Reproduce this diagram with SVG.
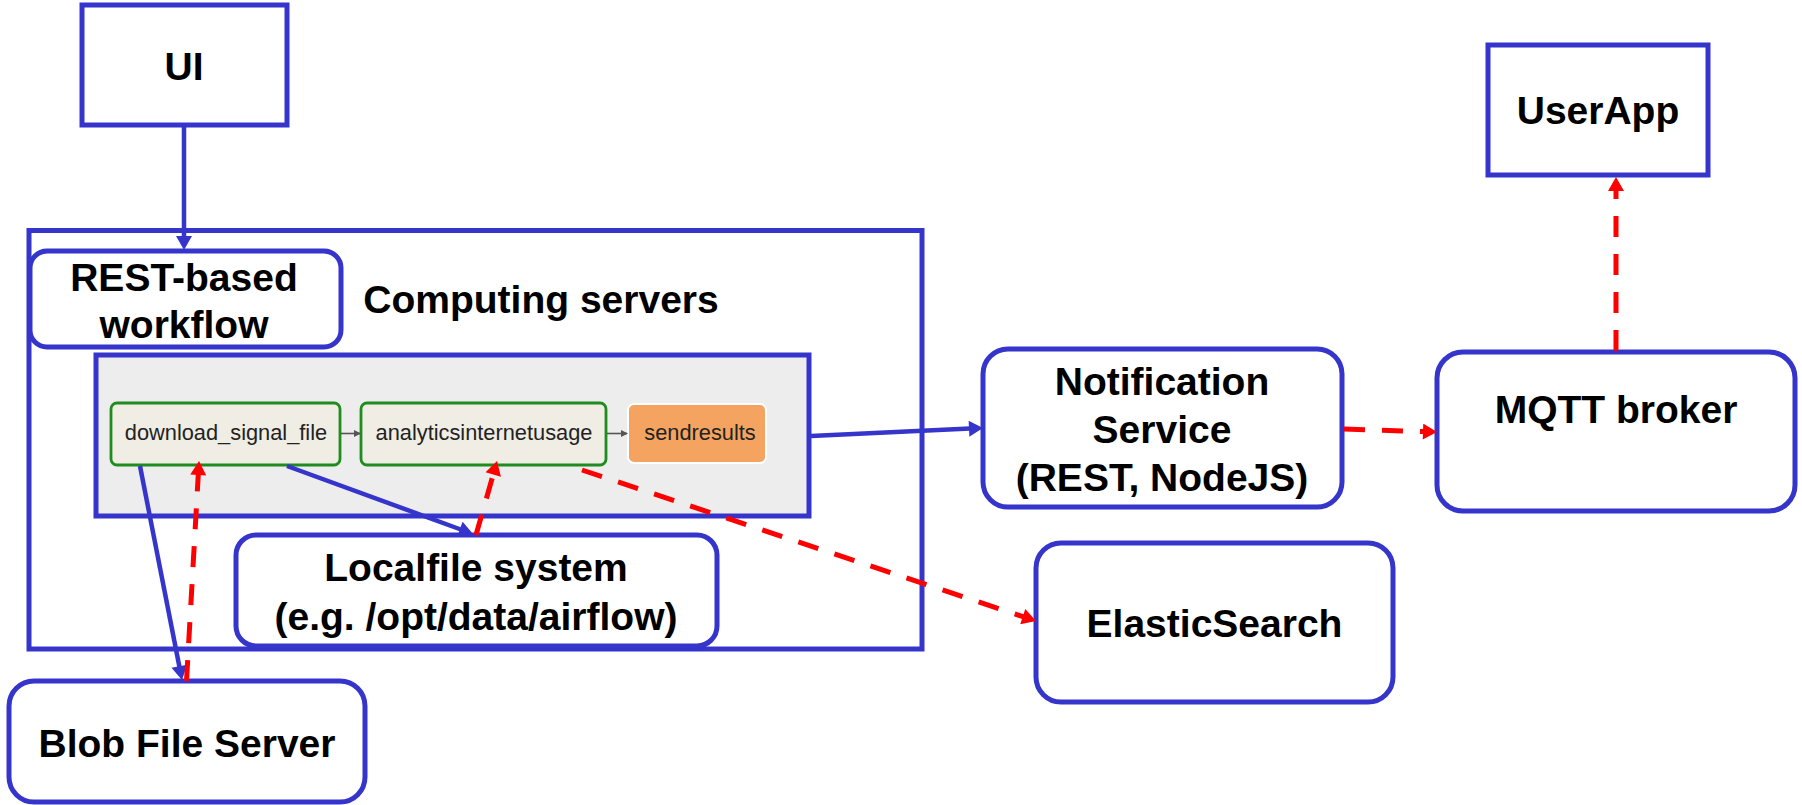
<svg xmlns="http://www.w3.org/2000/svg" width="1802" height="805" viewBox="0 0 1802 805">
<style>
.box{fill:#fff;stroke:#3535CC;stroke-width:5}
.lbl{font-family:"Liberation Sans",Arial,sans-serif;font-weight:bold;font-size:39px;fill:#000;text-anchor:middle}
.task{font-family:"Liberation Sans",Arial,sans-serif;font-size:21.8px;fill:#222;text-anchor:middle}
.tbox{fill:#F0EDE4;stroke:#1E8C1E;stroke-width:2.8}
.blue{fill:none;stroke:#3535CC;stroke-width:4.5}
.red{fill:none;stroke:#FF0000;stroke-width:5;stroke-dasharray:21 17}
.gray{fill:none;stroke:#555;stroke-width:1.6}
</style>
<defs>
<marker id="ab" markerUnits="userSpaceOnUse" markerWidth="16" markerHeight="16" refX="1" refY="8" orient="auto" viewBox="0 0 14 16">
<path d="M0,0 L14,8 L0,16 z" fill="#3535CC"/>
</marker>
<marker id="ar" markerUnits="userSpaceOnUse" markerWidth="16" markerHeight="16" refX="1" refY="8" orient="auto" viewBox="0 0 14 16">
<path d="M0,0 L14,8 L0,16 z" fill="#FF0000"/>
</marker>
<marker id="ag" markerUnits="userSpaceOnUse" markerWidth="7" markerHeight="7" refX="6" refY="3.5" orient="auto" viewBox="0 0 7 7">
<path d="M0,0 L7,3.5 L0,7 z" fill="#555"/>
</marker>
</defs>

<g id="computing-servers">
<rect x="29" y="230.5" width="893" height="418.5" fill="#fff" stroke="#3535CC" stroke-width="5"/>
<text class="lbl" x="541" y="313">Computing servers</text>
</g>

<g id="workflow-panel">
<rect x="96" y="355" width="713" height="161" fill="#EDEDED" stroke="#3535CC" stroke-width="5"/>
</g>

<g id="ui">
<rect class="box" x="82" y="5" width="205" height="120"/>
<text class="lbl" x="184" y="80">UI</text>
</g>

<g id="rest-workflow">
<rect class="box" x="30" y="251" width="311" height="96" rx="17"/>
<text class="lbl" x="184" y="290.5">REST-based</text>
<text class="lbl" x="184" y="338">workflow</text>
</g>

<g id="task-download">
<rect class="tbox" x="111" y="403" width="229" height="62" rx="6"/>
<text class="task" x="226" y="440">download_signal_file</text>
</g>

<g id="task-analytics">
<rect class="tbox" x="361" y="403" width="245" height="62" rx="6"/>
<text class="task" x="484" y="440">analyticsinternetusage</text>
</g>

<g id="task-sendresults">
<rect x="628" y="404" width="138" height="59" rx="6" fill="#F4A460" stroke="#fff" stroke-width="2"/>
<text class="task" x="700" y="440">sendresults</text>
</g>

<g id="localfile">
<rect class="box" x="236" y="535" width="481" height="111" rx="20"/>
<text class="lbl" x="476" y="581">Localfile system</text>
<text class="lbl" x="476" y="630">(e.g. /opt/data/airflow)</text>
</g>

<g id="blob">
<rect class="box" x="9" y="681" width="356" height="121" rx="25"/>
<text class="lbl" x="187" y="757">Blob File Server</text>
</g>

<g id="notification">
<rect class="box" x="983" y="349" width="359" height="158" rx="25"/>
<text class="lbl" x="1162" y="395">Notification</text>
<text class="lbl" x="1162" y="443">Service</text>
<text class="lbl" x="1162" y="491">(REST, NodeJS)</text>
</g>

<g id="elasticsearch">
<rect class="box" x="1036" y="543" width="357" height="159" rx="25"/>
<text class="lbl" x="1214.5" y="637">ElasticSearch</text>
</g>

<g id="mqtt">
<rect class="box" x="1437" y="352" width="358" height="159" rx="26"/>
<text class="lbl" x="1616" y="423">MQTT broker</text>
</g>

<g id="userapp">
<rect class="box" x="1488" y="45" width="220" height="130"/>
<text class="lbl" x="1598" y="124">UserApp</text>
</g>

<g id="connectors">
<line class="blue" x1="184" y1="127" x2="184" y2="237" marker-end="url(#ab)"/>
<line class="blue" x1="140" y1="466" x2="179.5" y2="667.2" marker-end="url(#ab)"/>
<line class="red" x1="186.5" y1="681" x2="198.3" y2="474" marker-end="url(#ar)"/>
<line class="blue" x1="287" y1="466" x2="460.8" y2="529.5" marker-end="url(#ab)"/>
<line class="red" x1="476" y1="535" x2="493.5" y2="473.5" marker-end="url(#ar)"/>
<line class="red" x1="582" y1="470" x2="1023.7" y2="616.9" marker-end="url(#ar)"/>
<line class="blue" x1="811" y1="436" x2="970" y2="428.6" marker-end="url(#ab)"/>
<line class="red" x1="1344" y1="429" x2="1424" y2="431.6" marker-end="url(#ar)"/>
<line class="red" x1="1616" y1="351" x2="1616" y2="190" marker-end="url(#ar)"/>
<line class="gray" x1="341" y1="433.5" x2="360" y2="433.5" marker-end="url(#ag)"/>
<line class="gray" x1="607" y1="433.5" x2="627" y2="433.5" marker-end="url(#ag)"/>
</g>
</svg>
